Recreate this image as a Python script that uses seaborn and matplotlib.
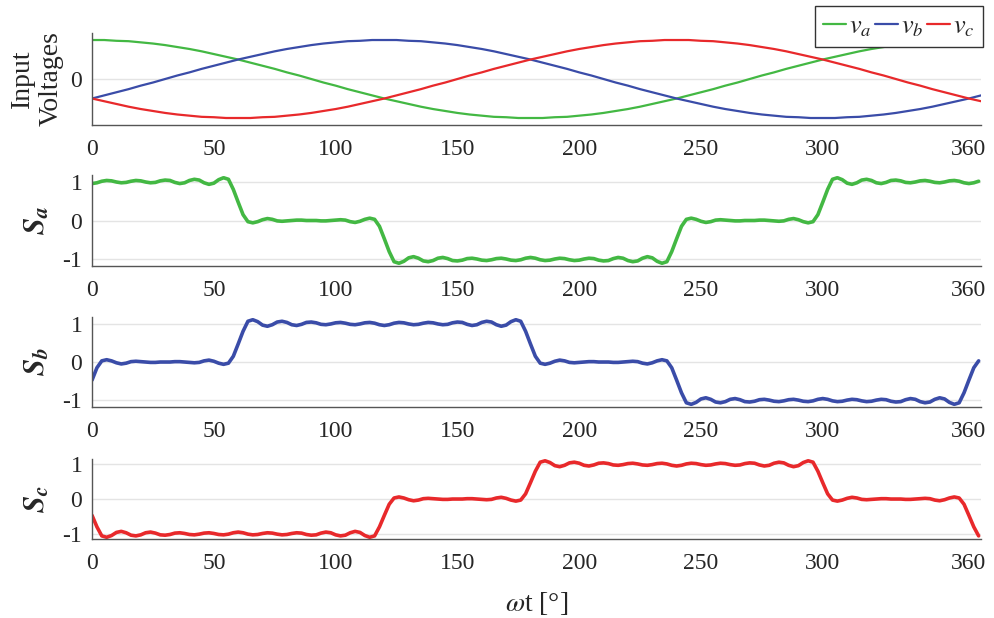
import numpy as np
import matplotlib
matplotlib.use("Agg")
import matplotlib.pyplot as plt
import seaborn as sns

# ---------------------------------------------------------------------------
# Data
# ---------------------------------------------------------------------------
# phase-angle grids in degrees
theta_v = np.arange(0, 366, 5)      # 0 .. 365, input voltages
theta_s = np.arange(0, 365, 2)      # 0 .. 364, switching functions

# normalised three-phase input voltages
v_a = [1.00, 1.00, 0.98, 0.97, 0.94, 0.91, 0.87, 0.82, 0.77, 0.71,
       0.64, 0.57, 0.50, 0.42, 0.34, 0.26, 0.17, 0.09, 0.00, -0.09,
       -0.17, -0.26, -0.34, -0.42, -0.50, -0.57, -0.64, -0.71, -0.77, -0.82,
       -0.87, -0.91, -0.94, -0.97, -0.98, -1.00, -1.00, -1.00, -0.98, -0.97,
       -0.94, -0.91, -0.87, -0.82, -0.77, -0.71, -0.64, -0.57, -0.50, -0.42,
       -0.34, -0.26, -0.17, -0.09, 0.00, 0.09, 0.17, 0.26, 0.34, 0.42,
       0.50, 0.57, 0.64, 0.71, 0.77, 0.82, 0.87, 0.91, 0.94, 0.97,
       0.98, 1.00, 1.00, 1.00]
v_b = [-0.50, -0.42, -0.34, -0.26, -0.17, -0.09, 0.00, 0.09, 0.17, 0.26,
       0.34, 0.42, 0.50, 0.57, 0.64, 0.71, 0.77, 0.82, 0.87, 0.91,
       0.94, 0.97, 0.98, 1.00, 1.00, 1.00, 0.98, 0.97, 0.94, 0.91,
       0.87, 0.82, 0.77, 0.71, 0.64, 0.57, 0.50, 0.42, 0.34, 0.26,
       0.17, 0.09, 0.00, -0.09, -0.17, -0.26, -0.34, -0.42, -0.50, -0.57,
       -0.64, -0.71, -0.77, -0.82, -0.87, -0.91, -0.94, -0.97, -0.98, -1.00,
       -1.00, -1.00, -0.98, -0.97, -0.94, -0.91, -0.87, -0.82, -0.77, -0.71,
       -0.64, -0.57, -0.50, -0.42]
v_c = [-0.50, -0.57, -0.64, -0.71, -0.77, -0.82, -0.87, -0.91, -0.94, -0.97,
       -0.98, -1.00, -1.00, -1.00, -0.98, -0.97, -0.94, -0.91, -0.87, -0.82,
       -0.77, -0.71, -0.64, -0.57, -0.50, -0.42, -0.34, -0.26, -0.17, -0.09,
       0.00, 0.09, 0.17, 0.26, 0.34, 0.42, 0.50, 0.57, 0.64, 0.71,
       0.77, 0.82, 0.87, 0.91, 0.94, 0.97, 0.98, 1.00, 1.00, 1.00,
       0.98, 0.97, 0.94, 0.91, 0.87, 0.82, 0.77, 0.71, 0.64, 0.57,
       0.50, 0.42, 0.34, 0.26, 0.17, 0.09, 0.00, -0.09, -0.17, -0.26,
       -0.34, -0.42, -0.50, -0.57]

# switching functions (band-limited three-level staircases)
S_a = [0.95, 0.97, 1.01, 1.03, 1.02, 0.99, 0.97, 0.98, 1.01, 1.03,
       1.02, 0.99, 0.97, 0.98, 1.02, 1.04, 1.03, 0.98, 0.95, 0.97,
       1.03, 1.06, 1.04, 0.97, 0.93, 0.96, 1.05, 1.10, 1.06, 0.80,
       0.47, 0.15, -0.03, -0.06, -0.03, 0.02, 0.05, 0.03, -0.01, -0.02,
       -0.01, 0.00, 0.01, 0.01, 0.00, 0.00,
       0.00, -0.01, -0.01, 0.00, 0.01, 0.02, 0.01, -0.03, -0.05, -0.02,
       0.03, 0.06, 0.03, -0.15, -0.47, -0.80, -1.06, -1.10, -1.05, -0.96,
       -0.93, -0.97, -1.04, -1.06, -1.03, -0.97, -0.95, -0.98, -1.03, -1.04,
       -1.02, -0.98, -0.97, -0.99, -1.02, -1.03, -1.01, -0.98, -0.97, -0.99,
       -1.02, -1.03, -1.01, -0.97, -0.95,
       -0.97, -1.01, -1.03, -1.02, -0.99, -0.97, -0.98, -1.01, -1.03, -1.02,
       -0.99, -0.97, -0.98, -1.02, -1.04, -1.03, -0.98, -0.95, -0.97, -1.03,
       -1.06, -1.04, -0.97, -0.93, -0.96, -1.05, -1.10, -1.06, -0.80, -0.47,
       -0.15, 0.03, 0.06, 0.03, -0.02, -0.05, -0.03, 0.01, 0.02, 0.01,
       0.00, -0.01, -0.01, 0.00, 0.00,
       0.00, 0.01, 0.01, 0.00, -0.01, -0.02, -0.01, 0.03, 0.05, 0.02,
       -0.03, -0.06, -0.03, 0.15, 0.47, 0.80, 1.06, 1.10, 1.05, 0.96,
       0.93, 0.97, 1.04, 1.06, 1.03, 0.97, 0.95, 0.98, 1.03, 1.04,
       1.02, 0.98, 0.97, 0.99, 1.02, 1.03, 1.01, 0.98, 0.97, 0.99,
       1.02, 1.03, 1.01, 0.97, 0.95,
       0.97, 1.01]
S_b = [-0.47, -0.15, 0.03, 0.06, 0.03, -0.02, -0.05, -0.03, 0.01, 0.02,
       0.01, 0.00, -0.01, -0.01, 0.00, 0.00,
       0.00, 0.01, 0.01, 0.00, -0.01, -0.02, -0.01, 0.03, 0.05, 0.02,
       -0.03, -0.06, -0.03, 0.15, 0.47, 0.80, 1.06, 1.10, 1.05, 0.96,
       0.93, 0.97, 1.04, 1.06, 1.03, 0.97, 0.95, 0.98, 1.03, 1.04,
       1.02, 0.98, 0.97, 0.99, 1.02, 1.03, 1.01, 0.98, 0.97, 0.99,
       1.02, 1.03, 1.01, 0.97,
       0.95, 0.97, 1.01, 1.03, 1.02, 0.99, 0.97, 0.98, 1.01, 1.03,
       1.02, 0.99, 0.97, 0.98, 1.02, 1.04, 1.03, 0.98, 0.95, 0.97,
       1.03, 1.06, 1.04, 0.97, 0.93, 0.96, 1.05, 1.10, 1.06, 0.80,
       0.47, 0.15, -0.03, -0.06, -0.03, 0.02, 0.05, 0.03, -0.01, -0.02,
       -0.01, 0.00, 0.01, 0.01, 0.00, 0.00,
       0.00, -0.01, -0.01, 0.00, 0.01, 0.02, 0.01, -0.03, -0.05, -0.02,
       0.03, 0.06, 0.03, -0.15, -0.47, -0.80, -1.06, -1.10, -1.05, -0.96,
       -0.93, -0.97, -1.04, -1.06, -1.03, -0.97, -0.95, -0.98, -1.03, -1.04,
       -1.02, -0.98, -0.97, -0.99, -1.02, -1.03, -1.01, -0.98, -0.97, -0.99,
       -1.02, -1.03, -1.01, -0.97, -0.95,
       -0.97, -1.01, -1.03, -1.02, -0.99, -0.97, -0.98, -1.01, -1.03, -1.02,
       -0.99, -0.97, -0.98, -1.02, -1.04, -1.03, -0.98, -0.95, -0.97, -1.03,
       -1.06, -1.04, -0.97, -0.93, -0.96, -1.05, -1.10, -1.06, -0.80, -0.47,
       -0.15, 0.03]
S_c = [-0.47, -0.80, -1.06, -1.10, -1.05, -0.96, -0.93, -0.97, -1.04, -1.06,
       -1.03, -0.97, -0.95, -0.98, -1.03, -1.04, -1.02, -0.98, -0.97, -0.99,
       -1.02, -1.03, -1.01, -0.98, -0.97, -0.99, -1.02, -1.03, -1.01, -0.97,
       -0.95,
       -0.97, -1.01, -1.03, -1.02, -0.99, -0.97, -0.98, -1.01, -1.03, -1.02,
       -0.99, -0.97, -0.98, -1.02, -1.04, -1.03, -0.98, -0.95, -0.97, -1.03,
       -1.06, -1.04, -0.97, -0.93, -0.96, -1.05, -1.10, -1.06, -0.80, -0.47,
       -0.15, 0.03, 0.06, 0.03, -0.02, -0.05, -0.03, 0.01, 0.02, 0.01,
       0.00, -0.01, -0.01, 0.00, 0.00,
       0.00, 0.01, 0.01, 0.00, -0.01, -0.02, -0.01, 0.03, 0.05, 0.02,
       -0.03, -0.06, -0.03, 0.15, 0.47, 0.80, 1.06, 1.10, 1.05, 0.96,
       0.93, 0.97, 1.04, 1.06, 1.03, 0.97, 0.95, 0.98, 1.03, 1.04,
       1.02, 0.98, 0.97, 0.99, 1.02, 1.03, 1.01, 0.98, 0.97, 0.99,
       1.02, 1.03, 1.01, 0.97,
       0.95, 0.97, 1.01, 1.03, 1.02, 0.99, 0.97, 0.98, 1.01, 1.03,
       1.02, 0.99, 0.97, 0.98, 1.02, 1.04, 1.03, 0.98, 0.95, 0.97,
       1.03, 1.06, 1.04, 0.97, 0.93, 0.96, 1.05, 1.10, 1.06, 0.80,
       0.47, 0.15, -0.03, -0.06, -0.03, 0.02, 0.05, 0.03, -0.01, -0.02,
       -0.01, 0.00, 0.01, 0.01, 0.00, 0.00,
       0.00, -0.01, -0.01, 0.00, 0.01, 0.02, 0.01, -0.03, -0.05, -0.02,
       0.03, 0.06, 0.03, -0.15, -0.47, -0.80, -1.06]

x_ticks = [0, 50, 100, 150, 200, 250, 300, 360]
x_tick_labels = ["0", "50", "100", "150", "200", "250", "300", "360"]
s_ticks = [-1, 0, 1]
s_tick_labels = ["-1", "0", "1"]

phase_labels = [r"$v_a$", r"$v_b$", r"$v_c$"]
switch_labels = [r"$\mathbfit{S}_{\mathbfit{a}}$",
                 r"$\mathbfit{S}_{\mathbfit{b}}$",
                 r"$\mathbfit{S}_{\mathbfit{c}}$"]

GREEN = "#43b843"
BLUE = "#3a4ca8"
RED = "#e8292b"
TEXT = "#262626"
AXIS = "#555555"

# ---------------------------------------------------------------------------
# Style
# ---------------------------------------------------------------------------
sns.set_style("white")
plt.rcParams["font.family"] = ["Liberation Serif", "DejaVu Serif"]
plt.rcParams.update({
    "mathtext.fontset": "stix",
    "axes.unicode_minus": False,
    "text.color": TEXT,
    "axes.labelcolor": TEXT,
})

fig = plt.figure(figsize=(9.94, 6.18), dpi=100)
left, width = 0.0926, 0.8944
ax_v = fig.add_axes([left, 0.7977, width, 0.1489])
ax_a = fig.add_axes([left, 0.5696, width, 0.1472])
ax_b = fig.add_axes([left, 0.3414, width, 0.1456])
ax_c = fig.add_axes([left, 0.1278, width, 0.1294])


def style_axis(ax, ylim, yticks, yticklabels):
    ax.set_xlim(0, 365)
    ax.set_ylim(*ylim)
    ax.set_xticks(x_ticks)
    ax.set_xticklabels(x_tick_labels)
    ax.set_yticks(yticks)
    ax.set_yticklabels(yticklabels)
    ax.set_xlabel("")
    ax.set_ylabel("")
    ax.tick_params(axis="both", direction="in", length=5.5, width=0.9,
                   color=AXIS, labelcolor=TEXT, labelsize=17)
    ax.tick_params(axis="x", pad=10)
    ax.tick_params(axis="y", pad=7)
    ax.set_axisbelow(True)
    ax.yaxis.grid(True, color="#e4e4e4", linewidth=1.0)
    ax.xaxis.grid(False)
    sns.despine(ax=ax)
    for side in ("left", "bottom"):
        ax.spines[side].set_color(AXIS)
        ax.spines[side].set_linewidth(1.0)


# input voltages
for vals, col, lab in zip((v_a, v_b, v_c), (GREEN, BLUE, RED), phase_labels):
    sns.lineplot(x=theta_v, y=vals, ax=ax_v, color=col, linewidth=1.6,
                 label=lab)
style_axis(ax_v, (-1.18, 1.18), [0], ["0"])
ax_v.text(-0.062, 0.5, "Input\nVoltages", transform=ax_v.transAxes,
          rotation=90, ha="center", va="center", fontsize=20,
          linespacing=1.2, color=TEXT)
ax_v.legend(loc="upper right", bbox_to_anchor=(1.002, 1.29), ncol=3,
            frameon=True, fancybox=False, framealpha=1, edgecolor="#333333",
            fontsize=19, handlelength=0.85, handletextpad=0.12,
            columnspacing=0.15, borderpad=0.32, borderaxespad=0)
ax_v.get_legend().get_frame().set_linewidth(1.0)

# switching functions
for ax, vals, col, lab, ylim in zip((ax_a, ax_b, ax_c), (S_a, S_b, S_c),
                                    (GREEN, BLUE, RED), switch_labels,
                                    ((-1.17, 1.17), (-1.17, 1.17),
                                     (-1.15, 1.15))):
    sns.lineplot(x=theta_s, y=vals, ax=ax, color=col, linewidth=2.6)
    style_axis(ax, ylim, s_ticks, s_tick_labels)
    ax.text(-0.062, 0.5, lab, transform=ax.transAxes, rotation=90,
            ha="center", va="center", fontsize=22, color=TEXT)

ax_c.set_xlabel(r"$\omega$t [°]", fontsize=20, color=TEXT)
ax_c.xaxis.set_label_coords(0.5, -0.64)

fig.savefig("out.png", dpi=100)
